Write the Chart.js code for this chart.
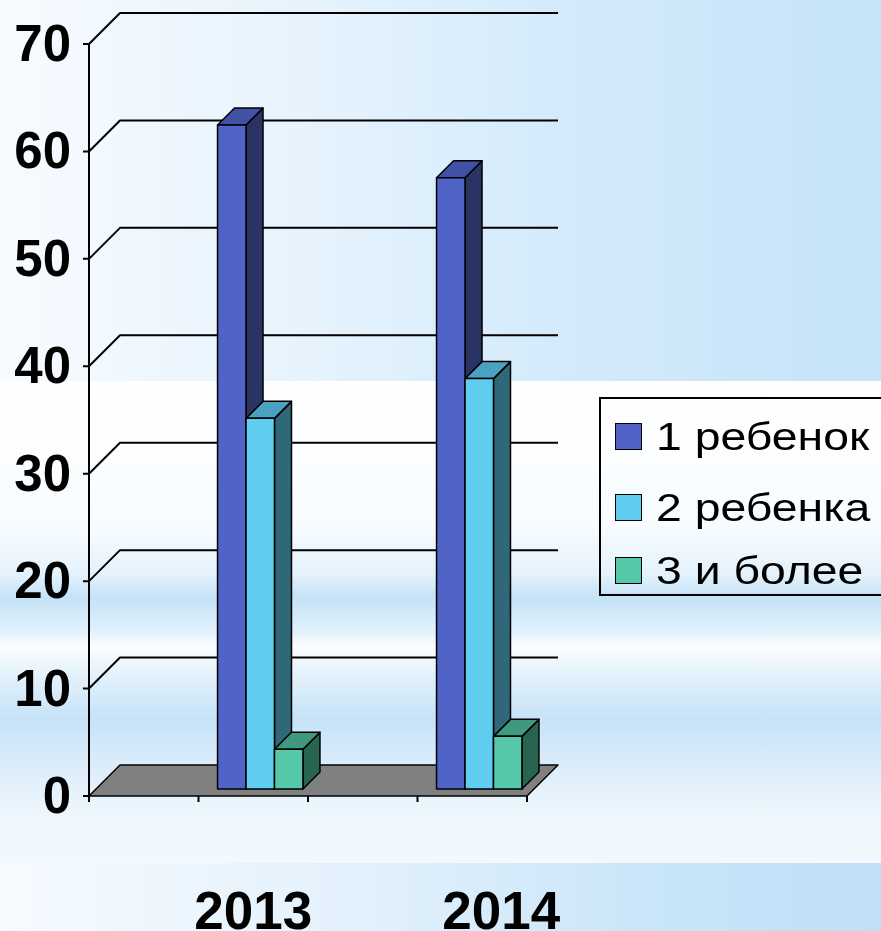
<!DOCTYPE html>
<html>
<head>
<meta charset="utf-8">
<script src="https://cdn.jsdelivr.net/npm/chart.js@4.4.0/dist/chart.umd.min.js"></script>
<style>
    html, body {
        margin: 0;
        padding: 0;
        width: 881px;
        height: 931px;
        overflow: hidden;
        font-family: "Liberation Sans", Arial, sans-serif;
    }
    #bgTop {
        position: absolute;
        left: 0; top: 0; width: 881px; height: 381px;
        background: linear-gradient(to right, #f7fbff 0%, #e6f3fd 35%, #d3eafb 65%, #c6e3f8 100%);
    }
    #bgMid {
        position: absolute;
        left: 0; top: 381px; width: 881px; height: 482px;
        background: linear-gradient(to bottom, #ffffff 0%, #f8fcff 30%, #e4f2fc 40%, #c4e2f7 45%, #e2f1fc 52%, #fbfdff 55%, #e0f0fb 62%, #c6e3f8 70%, #dcedfa 80%, #eef7fd 90%, #f3f9fe 100%);
    }
    #bgBottom {
        position: absolute;
        left: 0; top: 863px; width: 881px; height: 68px;
        background: linear-gradient(to right, #f6fbff 0%, #e3f1fc 40%, #c9e5f9 75%, #bfe0f7 100%);
    }
    #chart {
        position: absolute;
        left: 0; top: 0;
    }
    #legendContainer {
        position: absolute;
        left: 599px;
        top: 397px;
        width: 320px;
        height: 199px;
        border: 2px solid #000;
        box-sizing: border-box;
    }
    .chart-legend {
        list-style: none;
        margin: 0;
        padding: 0;
    }
    .chart-legend li {
        position: absolute;
        left: 14px;
        height: 30px;
        white-space: nowrap;
        font-size: 38px;
        line-height: 30px;
        color: #000;
    }
    .chart-legend li span {
        display: inline-block;
        width: 27px;
        height: 27px;
        border: 1.5px solid #000;
        box-sizing: border-box;
        vertical-align: middle;
        margin-right: 14px;
    }
    .chart-legend li em {
        font-style: normal;
        display: inline-block;
        vertical-align: middle;
        transform: scaleX(1.22);
        transform-origin: left center;
    }
</style>
</head>
<body>
<div id="bgTop"></div>
<div id="bgMid"></div>
<div id="bgBottom"></div>
<canvas id="chart" width="881" height="931"></canvas>
<div id="legendContainer"></div>

<script>
// data (percent of families)
var years = ["2013", "2014"];
var seriesNames = ["1 ребенок", "2 ребенка", "3 и более"];
var oneChild = [61.8, 56.9];
var twoChildren = [34.5, 38.2];
var threeOrMore = [3.7, 4.9];
var yTicks = [0, 10, 20, 30, 40, 50, 60, 70];

// front / side / top colours for each series
var seriesColors = [
    { front: "#5064c8", side: "#2a3464", top: "#4152a4" },
    { front: "#60ccf0", side: "#2f6878", top: "#48a2c0" },
    { front: "#55c8aa", side: "#286450", top: "#409880" }
];

// the original chart has empty slots between the years
function spreadOut(values) {
    return [null, values[0], null, values[1]];
}

var WALL_DEPTH = 31;   // depth of the floor / walls
var BAR_SHIFT = 7;     // bars start this far behind the front plane
var BAR_DEPTH = 17;

function poly(ctx, pts, fill) {
    ctx.beginPath();
    ctx.moveTo(pts[0][0], pts[0][1]);
    for (var i = 1; i < pts.length; i++) {
        ctx.lineTo(pts[i][0], pts[i][1]);
    }
    ctx.closePath();
    ctx.fillStyle = fill;
    ctx.fill();
    ctx.stroke();
}

function drawBox(ctx, left, right, top, bottom, col) {
    var x0 = left + BAR_SHIFT, x1 = right + BAR_SHIFT;
    var yT = top - BAR_SHIFT, yB = bottom - BAR_SHIFT;
    var d = BAR_DEPTH;
    poly(ctx, [[x1, yT], [x1 + d, yT - d], [x1 + d, yB - d], [x1, yB]], col.side);
    poly(ctx, [[x0, yT], [x1, yT], [x1 + d, yT - d], [x0 + d, yT - d]], col.top);
    poly(ctx, [[x0, yT], [x1, yT], [x1, yB], [x0, yB]], col.front);
}

var threeDPlugin = {
    id: "threeD",
    beforeDatasetsDraw: function (chart) {
        var ctx = chart.ctx;
        var area = chart.chartArea;
        var y = chart.scales.y;
        var L = area.left, R = area.right, B = y.getPixelForValue(0);
        var w = WALL_DEPTH;
        ctx.save();
        ctx.strokeStyle = "#000";
        ctx.lineWidth = 2;
        ctx.lineJoin = "round";
        // gridlines on the side and back walls
        yTicks.forEach(function (v) {
            if (v === 0) return;
            var py = y.getPixelForValue(v);
            ctx.beginPath();
            ctx.moveTo(L, py);
            ctx.lineTo(L + w, py - w);
            ctx.lineTo(R + w, py - w);
            ctx.stroke();
        });
        // floor
        ctx.lineWidth = 1.5;
        poly(ctx, [[L, B], [R, B], [R + w, B - w], [L + w, B - w]], "#808080");
        ctx.restore();
    },
    afterDatasetsDraw: function (chart) {
        var ctx = chart.ctx;
        var area = chart.chartArea;
        var x = chart.scales.x;
        var y = chart.scales.y;
        var L = area.left, R = area.right, B = y.getPixelForValue(0);
        ctx.save();
        ctx.strokeStyle = "#000";
        ctx.lineWidth = 1.5;
        ctx.lineJoin = "round";

        // bars, left to right so each front face hides the previous side
        var boxes = [];
        chart.data.datasets.forEach(function (ds, di) {
            chart.getDatasetMeta(di).data.forEach(function (bar, i) {
                if (ds.data[i] === null) return;
                var p = bar.getProps(["x", "y", "base", "width"], true);
                boxes.push({ p: p, col: seriesColors[di] });
            });
        });
        boxes.sort(function (a, b) { return a.p.x - b.p.x; });
        boxes.forEach(function (b) {
            drawBox(ctx, b.p.x - b.p.width / 2, b.p.x + b.p.width / 2, b.p.y, b.p.base, b.col);
        });

        // front value axis and category ticks
        ctx.lineWidth = 2;
        ctx.beginPath();
        ctx.moveTo(L, y.getPixelForValue(yTicks[yTicks.length - 1]));
        ctx.lineTo(L, B);
        yTicks.forEach(function (v) {
            var py = y.getPixelForValue(v);
            ctx.moveTo(L - 6, py);
            ctx.lineTo(L, py);
        });
        var n = chart.data.labels.length;
        for (var i = 0; i <= n; i++) {
            var px = L + (R - L) * i / n;
            ctx.moveTo(px, B);
            ctx.lineTo(px, B + 6);
        }
        ctx.stroke();

        // tick labels
        ctx.fillStyle = "#000";
        ctx.font = "bold 51px 'Liberation Sans', Arial, sans-serif";
        ctx.textAlign = "right";
        ctx.textBaseline = "middle";
        yTicks.forEach(function (v) {
            ctx.fillText(String(v), L - 18, y.getPixelForValue(v) + 3);
        });
        ctx.font = "bold 53px 'Liberation Sans', Arial, sans-serif";
        ctx.textAlign = "center";
        ctx.textBaseline = "alphabetic";
        ctx.fillText(years[0], x.getPixelForValue(1), 929);
        ctx.fillText(years[1], x.getPixelForValue(3) + 29, 929);
        ctx.restore();
    }
};

function generateChart() {
    var datasets = [oneChild, twoChildren, threeOrMore].map(function (values, i) {
        return {
            label: seriesNames[i],
            data: spreadOut(values),
            backgroundColor: "rgba(0,0,0,0)",
            borderWidth: 0,
            categoryPercentage: 0.78,
            barPercentage: 1
        };
    });

    var chart = new Chart(document.getElementById("chart"), {
        type: "bar",
        data: {
            labels: spreadOut(years).map(function (v) { return v || ""; }),
            datasets: datasets
        },
        options: {
            responsive: false,
            animation: false,
            layout: {
                padding: { left: 89, right: 354, top: 44, bottom: 135 }
            },
            scales: {
                x: { display: false },
                y: { display: false, min: 0, max: 70 }
            },
            plugins: {
                legend: { display: false },
                tooltip: { enabled: false }
            }
        },
        plugins: [threeDPlugin]
    });

    renderLegend();
}

function renderLegend() {
    var legendContainer = document.getElementById("legendContainer");
    legendContainer.innerHTML = "";
    var legendList = document.createElement("ul");
    legendList.classList.add("chart-legend");
    var rowTops = [20, 91, 154];

    seriesNames.forEach(function (name, i) {
        var listItem = document.createElement("li");
        listItem.style.top = rowTops[i] + "px";
        var span = document.createElement("span");
        span.style.background = seriesColors[i].front;
        var text = document.createElement("em");
        text.textContent = name;
        listItem.appendChild(span);
        listItem.appendChild(text);
        legendList.appendChild(listItem);
    });

    legendContainer.appendChild(legendList);
}

generateChart();
</script>
</body>
</html>
